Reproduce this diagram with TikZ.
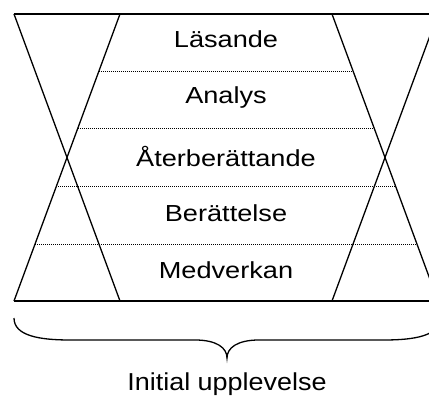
\documentclass[tikz,border=0pt]{standalone}
\usepackage{fontspec}
\newfontfamily\labfont[FakeStretch=1.17]{Liberation Sans}
\newfontfamily\capfont[FakeStretch=1.1]{Liberation Sans}
\begin{document}
\begin{tikzpicture}[x=1pt,y=-1pt,
  solidline/.style={line width=1.3pt, line join=miter},
  dotline/.style={line width=0.8pt, dash pattern=on 1pt off 1pt},
  bracepath/.style={line width=1.3pt},
  lab/.style={anchor=base, inner sep=0pt, font=\labfont\fontsize{23.2}{28}\selectfont},
  caplab/.style={anchor=base, inner sep=0pt, font=\capfont\fontsize{24.5}{30}\selectfont}]
\useasboundingbox (0,0) rectangle (429,396);
\clip (0,0) rectangle (429,396);
% vertices
\coordinate (TL) at (14,14);
\coordinate (TIL) at (120,14);
\coordinate (TIR) at (332,14);
\coordinate (TR) at (438,14);
\coordinate (BL) at (14,301);
\coordinate (BIL) at (120,301);
\coordinate (BIR) at (332,301);
\coordinate (BR) at (438,301);
% top and bottom lines
\draw[solidline] (TL) -- (TR);
\draw[solidline] (BL) -- (BR);
\draw[line width=1.9pt] (TIL) -- (TIR);
\draw[line width=1.9pt] (BIL) -- (BIR);
% crossing diagonals
\draw[solidline] (TL) -- (BIL);
\draw[solidline] (TIL) -- (BL);
\draw[solidline] (TIR) -- (BR);
\draw[solidline] (TR) -- (BIR);
% dotted separators
\foreach \yy in {71,128,186,244} {
  \pgfmathsetmacro{\dx}{0.369338*(\yy-14)}
  \draw[dotline] (120-\dx,\yy) -- (332+\dx,\yy);
}
% labels
\node[lab] (l1) at (226,48) {Läsande};
\node[lab] (l2) at (226,103) {Analys};
\node[lab] (l3) at (226,167) {Återberättande};
\node[lab] (l4) at (226,222) {Berättelse};
\node[lab] (l5) at (226,278) {Medverkan};
% brace
\draw[bracepath] (14,318) .. controls (14,336) and (40,340) .. (70,340)
  -- (195,340) .. controls (217,340) and (227,348) .. (227,358)
  .. controls (227,348) and (237,340) .. (259,340)
  -- (384,340) .. controls (414,340) and (440,336) .. (440,318);
\node[caplab] (cap) at (227,390.5) {Initial upplevelse};
\end{tikzpicture}
\end{document}
